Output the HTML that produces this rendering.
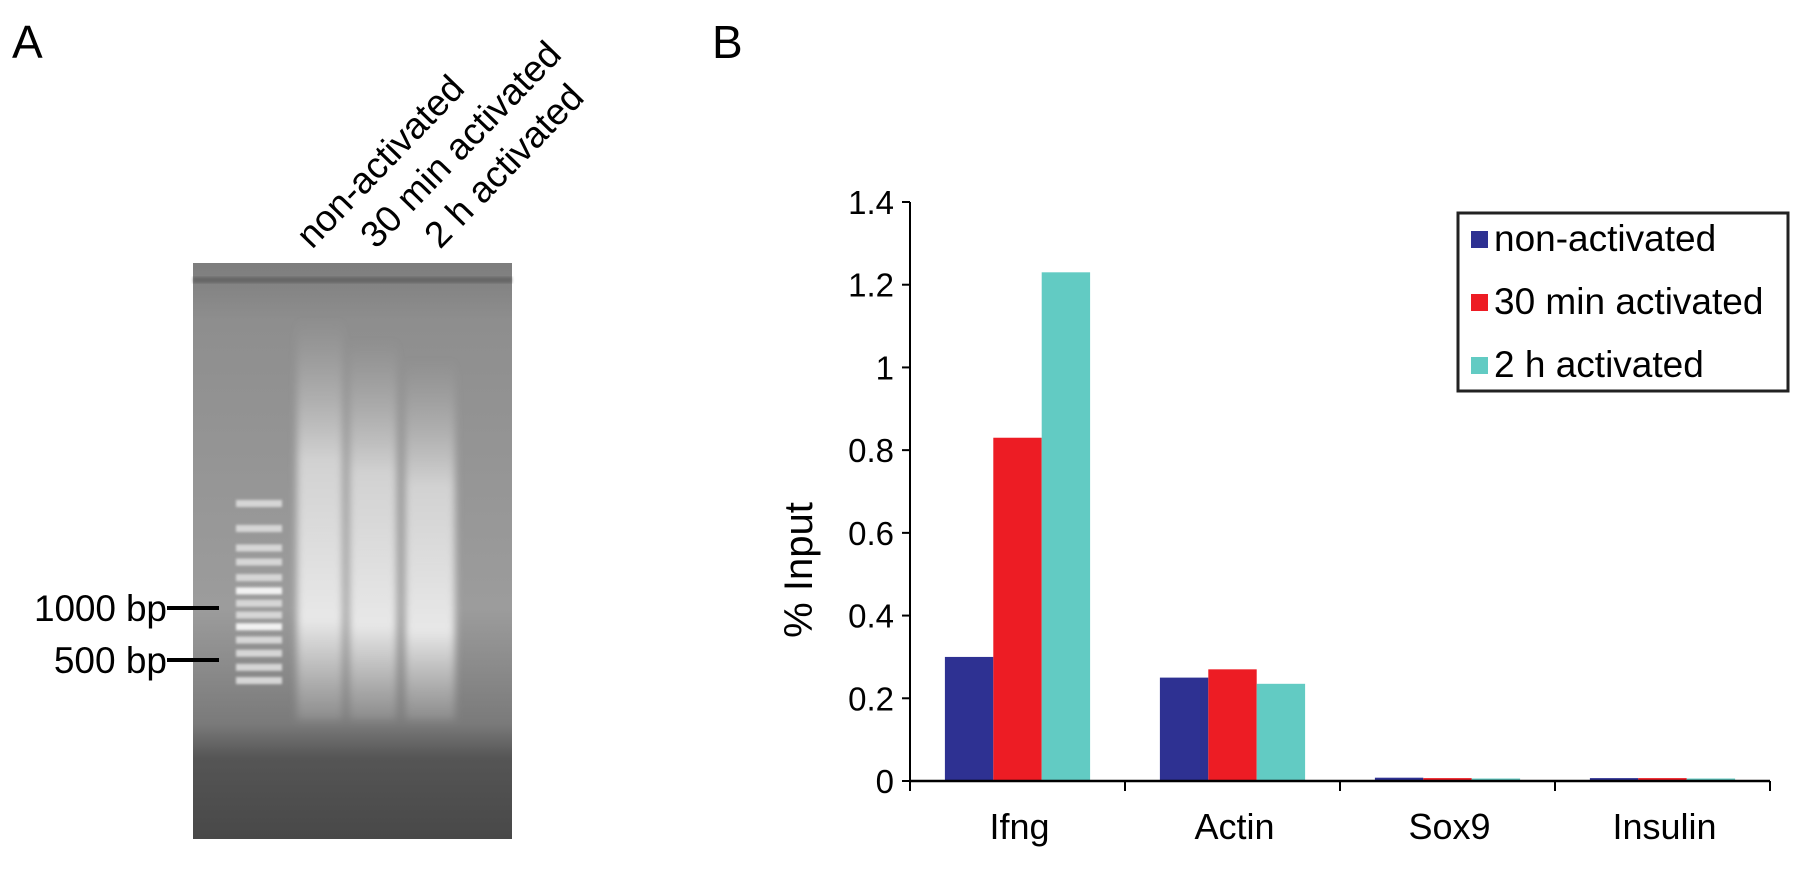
<!DOCTYPE html>
<html><head><meta charset="utf-8"><style>
html,body{margin:0;padding:0;background:#fff;}
svg{display:block;font-family:"Liberation Sans",Arial,sans-serif;}
</style></head><body>
<svg id="fig" width="1806" height="876" viewBox="0 0 1806 876" xmlns="http://www.w3.org/2000/svg">
<defs>
<linearGradient id="gelg" x1="0" y1="0" x2="0" y2="1">
<stop offset="0" stop-color="#7d7d7d"/><stop offset="0.1" stop-color="#8e8e8e"/>
<stop offset="0.6" stop-color="#9c9c9c"/><stop offset="0.8" stop-color="#7a7a7a"/>
<stop offset="0.86" stop-color="#555"/><stop offset="1" stop-color="#484848"/>
</linearGradient>
<linearGradient id="smear" x1="0" y1="0" x2="0" y2="1">
<stop offset="0" stop-color="#bbb" stop-opacity="0"/><stop offset="0.35" stop-color="#dcdcdc" stop-opacity="0.85"/>
<stop offset="0.75" stop-color="#ececec" stop-opacity="0.95"/><stop offset="1" stop-color="#ccc" stop-opacity="0.2"/>
</linearGradient>
<filter id="blur"><feGaussianBlur stdDeviation="4"/></filter>
<filter id="blur1"><feGaussianBlur stdDeviation="1.2"/></filter>
</defs>
<text x="12" y="58" font-size="46">A</text>
<text x="712" y="58" font-size="46">B</text>
<g>
<rect x="193" y="263" width="319" height="576" fill="url(#gelg)"/>
<rect x="193" y="277" width="319" height="6" fill="#555" opacity="0.6" filter="url(#blur1)"/>
<g filter="url(#blur)">
<rect x="297" y="320" width="46" height="400" fill="url(#smear)"/>
<rect x="349" y="340" width="48" height="380" fill="url(#smear)"/>
<rect x="405" y="360" width="50" height="360" fill="url(#smear)"/>
</g>
<g id="ladder" filter="url(#blur1)"></g>
<line x1="167" y1="608" x2="219" y2="608" stroke="#000" stroke-width="4"/>
<line x1="167" y1="660" x2="219" y2="660" stroke="#000" stroke-width="4"/>
<text x="167" y="621" font-size="37" text-anchor="end" textLength="133">1000 bp</text>
<text x="167" y="673" font-size="37" text-anchor="end">500 bp</text>
<text transform="translate(312,250) rotate(-46)" font-size="37">non-activated</text>
<text transform="translate(376,250) rotate(-46)" font-size="37">30 min activated</text>
<text transform="translate(440,250) rotate(-46)" font-size="37">2 h activated</text>
</g>
<g id="chart"></g>
<g>
<rect x="1458" y="213" width="330" height="178" fill="#fff" stroke="#222" stroke-width="3"/>
<rect x="1471" y="231" width="17" height="17" fill="#2e3192"/>
<text x="1494" y="251" font-size="37">non-activated</text>
<rect x="1471" y="294" width="17" height="17" fill="#ed1c24"/>
<text x="1494" y="314" font-size="37">30 min activated</text>
<rect x="1471" y="357" width="17" height="17" fill="#62cbc3"/>
<text x="1494" y="377" font-size="37">2 h activated</text>
</g>
</svg>
<script>
const NS="http://www.w3.org/2000/svg";
const categories=["Ifng","Actin","Sox9","Insulin"];
const nonActivated=[0.30,0.25,0.008,0.007];
const min30Activated=[0.83,0.27,0.007,0.007];
const h2Activated=[1.23,0.235,0.006,0.006];
const yTicks=[0,0.2,0.4,0.6,0.8,1,1.2,1.4];
const yTickLabels=["0","0.2","0.4","0.6","0.8","1","1.2","1.4"];
const ladderBands=[0,0.32,0.57,0.75,0.95,1.12,1.28,1.43,1.58,1.75,1.92,2.1,2.27];

const X0=910,X1=1770,Y0=781,Y1=202,YMAX=1.4;
const catW=(X1-X0)/categories.length;
function yS(v){return Y0-(v/YMAX)*(Y0-Y1);}
function xCat(i){return X0+i*catW;}
const chart=document.getElementById('chart');
function mk(tag,attrs,parent){const e=document.createElementNS(NS,tag);for(const k in attrs)e.setAttribute(k,attrs[k]);parent.appendChild(e);return e;}

const lad=document.getElementById('ladder');
ladderBands.forEach((b,i)=>{
 const r=mk('rect',{x:236,y:503+b*78-3,width:46,height:7,fill:i==5||i==8?'#f2f2f2':'#d6d6d6'},lad);
 
 
});

const series=[nonActivated,min30Activated,h2Activated];
const colors=["#2e3192","#ed1c24","#62cbc3"];
const names=["non-activated","30min","2h"];
const bw=48.4, off=(catW-3*bw)/2;
categories.forEach((c,i)=>{
 series.forEach((s,j)=>{
  const y=yS(s[i]);
  const r=mk('rect',{x:xCat(i)+off+j*bw,y:y,width:bw,height:Y0-y,fill:colors[j]},chart);
  
  
 });
 const t=mk('text',{x:xCat(i)+catW/2+2,y:839,'font-size':36,'text-anchor':'middle'},chart);
 t.textContent=c;
 
 
});
for(let i=0;i<=categories.length;i++){
 const l=mk('line',{x1:xCat(i),x2:xCat(i),y1:Y0,y2:Y0+10,stroke:'#000','stroke-width':2},chart);
 
 
}
yTicks.forEach((v,i)=>{
 const l=mk('line',{x1:X0-8,x2:X0,y1:yS(v),y2:yS(v),stroke:'#000','stroke-width':2},chart);
 
 
 const t=mk('text',{x:X0-16,y:yS(v)+12,'font-size':33,'text-anchor':'end'},chart);
 t.textContent=yTickLabels[i];
 
 
});
const ya=mk('line',{x1:X0,x2:X0,y1:Y1,y2:Y0,stroke:'#000','stroke-width':2},chart);


const xa=mk('line',{x1:X0,x2:X1,y1:Y0,y2:Y0,stroke:'#000','stroke-width':2.5},chart);


const yt=mk('text',{transform:'translate(812,570) rotate(-90)','font-size':40,'text-anchor':'middle'},chart);
yt.textContent='% Input';


</script>
</body></html>
